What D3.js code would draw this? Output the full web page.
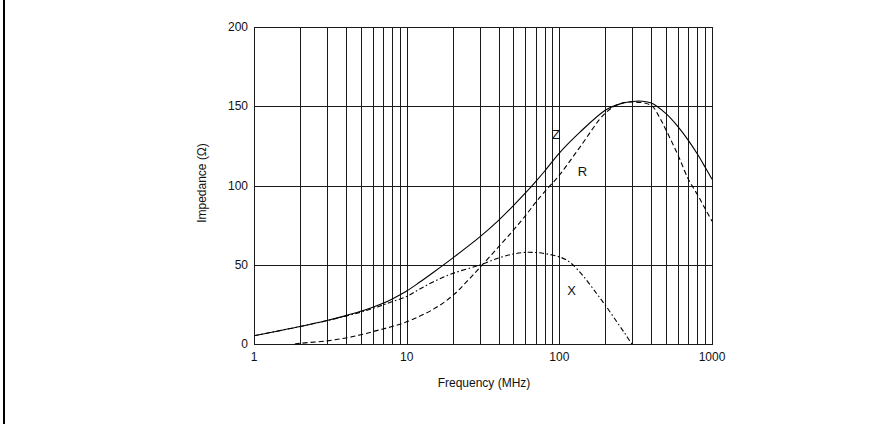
<!DOCTYPE html>
<html>
<head>
<meta charset="utf-8">
<script src="https://cdn.jsdelivr.net/npm/d3@7"></script>
<style>
  body { margin: 0; background: #fff; }
  text { font-family: Arial, "Liberation Sans", sans-serif; fill: #111; }
</style>
</head>
<body>
<div id="chart"></div>
<script>
// impedance curves (MHz, ohm)
const freqZ = [1, 2, 3, 4, 5, 6, 7, 8, 9, 10, 12, 15, 20, 30, 40, 50, 60, 70, 80, 100, 136, 200, 250, 300, 350, 400, 500, 600, 700, 800, 900, 1000];
const valZ  = [5.2, 11, 14.8, 17.9, 20.6, 23.2, 25.7, 28.3, 30.9, 33.4, 38.6, 45.3, 54.2, 67.4, 78, 87.3, 95.3, 102.5, 109, 120.5, 133.5, 147.5, 151.5, 153, 153.2, 152, 145.3, 137, 128.5, 120, 111.7, 104];

const freqR = [1.85, 2, 3, 4, 5, 6, 7, 8, 10, 15, 20, 25, 30, 40, 50, 60, 70, 80, 100, 136, 200, 250, 300, 400, 450, 500, 600, 700, 800, 900, 1000];
const valR  = [0, 0.4, 2, 3.8, 5.8, 7.8, 9.5, 11, 14, 22, 30.5, 39.8, 48, 61.3, 71.8, 81, 89.3, 96, 106.5, 124, 145.7, 151.6, 152.7, 150.5, 143.5, 135, 119, 104, 94.5, 85.5, 77.5];

const freqX = [1, 2, 3, 4, 5, 6, 7, 8, 10, 12, 15, 20, 30, 40, 50, 60, 70, 80, 90, 100, 110, 120, 143, 175, 200, 236, 268, 290, 300];
const valX  = [5.2, 11, 14.7, 17.6, 20.1, 22.5, 24.6, 26.6, 30, 34.3, 39.3, 44.5, 49.8, 54.3, 56.8, 57.8, 57.7, 57.1, 56.1, 55, 53.3, 50.8, 43, 32, 24.5, 14.5, 6.8, 1.8, 0];

const yTicks = [0, 50, 100, 150, 200];
const xTicks = [1, 10, 100, 1000];

const width = 890;
const height = 424;

const svg = d3.select('#chart')
    .append('svg')
    .attr('width', width)
    .attr('height', height);

// left border of the page
svg.append('rect')
    .attr('x', 3).attr('y', 0)
    .attr('width', 2).attr('height', height)
    .attr('fill', '#000');

const x = d3.scaleLog().domain([1, 1000]).range([254, 712]);
const y = d3.scaleLinear().domain([0, 200]).range([344, 27]);

const px = v => Math.round(v) + 0.5;

// vertical grid: 1..9 in every decade
const gridX = [];
for (let e = 0; e < 3; e++) {
    for (let m = 1; m < 10; m++) gridX.push(m * Math.pow(10, e));
}
gridX.push(1000);

svg.append('g')
    .selectAll('line')
    .data(gridX)
    .enter()
    .append('line')
    .attr('x1', d => px(x(d))).attr('x2', d => px(x(d)))
    .attr('y1', y(200)).attr('y2', y(0))
    .attr('stroke', '#1a1a1a')
    .attr('stroke-width', 1);

svg.append('g')
    .selectAll('line')
    .data(yTicks)
    .enter()
    .append('line')
    .attr('x1', x(1)).attr('x2', x(1000) + 1)
    .attr('y1', d => px(y(d))).attr('y2', d => px(y(d)))
    .attr('stroke', '#1a1a1a')
    .attr('stroke-width', 1);

// tick labels
svg.append('g')
    .selectAll('text')
    .data(yTicks)
    .enter()
    .append('text')
    .attr('x', 248)
    .attr('y', d => y(d) + 4)
    .attr('text-anchor', 'end')
    .attr('font-size', 12)
    .text(d => d);

svg.append('g')
    .selectAll('text')
    .data(xTicks)
    .enter()
    .append('text')
    .attr('x', d => x(d))
    .attr('y', 361)
    .attr('text-anchor', 'middle')
    .attr('font-size', 12)
    .text(d => d);

svg.append('text')
    .attr('x', 484).attr('y', 387)
    .attr('text-anchor', 'middle')
    .attr('font-size', 12)
    .text('Frequency (MHz)');

svg.append('text')
    .attr('transform', 'translate(206,183) rotate(-90)')
    .attr('text-anchor', 'middle')
    .attr('font-size', 12)
    .text('Impedance (\u03A9)');

// curves
const line = d3.line()
    .x(d => x(d[0]))
    .y(d => y(d[1]))
    .curve(d3.curveCatmullRom.alpha(0.5));

const series = [
    { f: freqZ, v: valZ, dash: null },
    { f: freqR, v: valR, dash: '5,3' },
    { f: freqX, v: valX, dash: '5,2.5,1.5,2.5' }
];

svg.append('g')
    .selectAll('path')
    .data(series)
    .enter()
    .append('path')
    .attr('d', s => line(s.f.map((f, i) => [f, s.v[i]])))
    .attr('fill', 'none')
    .attr('stroke', '#000')
    .attr('stroke-width', 1.1)
    .attr('stroke-dasharray', s => s.dash);

// curve labels
const labels = [
    { t: 'Z', f: 95, v: 129.5 },
    { t: 'R', f: 141.7, v: 105.8 },
    { t: 'X', f: 120.4, v: 31.2 }
];

svg.append('g')
    .selectAll('text')
    .data(labels)
    .enter()
    .append('text')
    .attr('x', d => x(d.f))
    .attr('y', d => y(d.v))
    .attr('text-anchor', 'middle')
    .attr('font-size', 13)
    .text(d => d.t);
</script>
</body>
</html>
